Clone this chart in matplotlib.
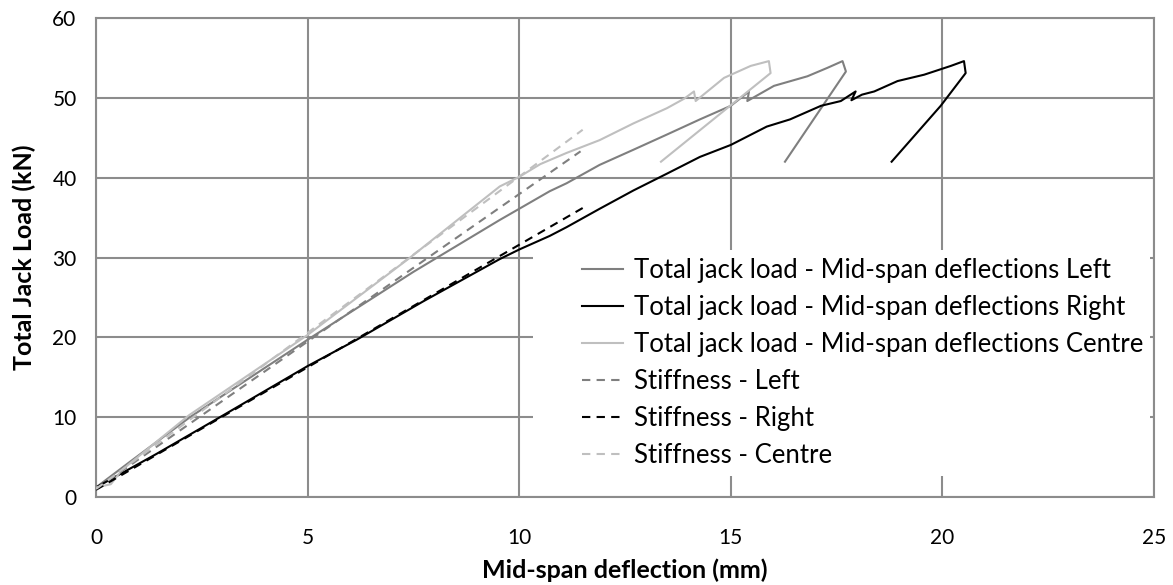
import matplotlib
matplotlib.use("Agg")
import matplotlib.pyplot as plt
from matplotlib.patches import Rectangle

plt.rcParams['font.family'] = ['Lato', 'DejaVu Sans']

# Total jack load vs mid-span deflection (mm, kN)
left_x = [0, 0.8, 2.22, 5, 7.5, 9.54, 10, 10.72, 11.12, 11.9, 12.7, 13.49, 14.27, 15, 15.24,
          15.43, 15.39, 16.02, 16.81, 17.28, 17.64, 17.72, 16.28]
left_y = [1.2, 4.4, 10.0, 19.7, 28.2, 34.7, 36.1, 38.3, 39.3, 41.6, 43.5, 45.4, 47.3, 49.0, 50.0,
          50.8, 49.6, 51.5, 52.7, 53.75, 54.6, 53.3, 42.0]

right_x = [0, 0.65, 1.43, 2.93, 5, 6.16, 7.73, 9.54, 10, 10.72, 11.12, 11.9, 12.7, 13.49, 14.27,
           15, 15.85, 16.4, 17.13, 17.6, 17.95, 17.85, 18.1, 18.39, 18.94, 19.57, 20.2, 20.51,
           20.55, 19.96, 18.8]
right_y = [1.2, 3.1, 5.4, 10.0, 16.4, 19.7, 24.5, 29.8, 31.0, 32.7, 33.8, 36.1, 38.4, 40.5, 42.6,
           44.1, 46.4, 47.3, 49.0, 49.6, 50.8, 49.7, 50.4, 50.8, 52.1, 52.9, 54.0, 54.6,
           53.1, 49.0, 42.0]

centre_x = [0, 0.35, 0.6, 0.8, 2.2, 5, 7.4, 9.54, 10, 10.5, 11.12, 11.9, 12.7, 13.49, 13.9, 14.13,
            14.17, 14.84, 15.47, 15.9, 15.94, 13.35]
centre_y = [1.2, 1.6, 3.3, 4.2, 10.25, 20.3, 29.9, 38.9, 40.1, 41.7, 43.1, 44.7, 46.8, 48.7, 49.9,
            50.8, 49.6, 52.5, 54.0, 54.6, 53.1, 42.0]

# Stiffness lines (start and end points)
stiff_left_x = [0, 11.45]
stiff_left_y = [1.0, 43.3]
stiff_right_x = [0, 11.5]
stiff_right_y = [0.9, 36.2]
stiff_centre_x = [0, 11.5]
stiff_centre_y = [1.0, 46.0]

labels = ["Total jack load - Mid-span deflections Left",
          "Total jack load - Mid-span deflections Right",
          "Total jack load - Mid-span deflections Centre",
          "Stiffness - Left", "Stiffness - Right", "Stiffness - Centre"]

c_left = '#7f7f7f'
c_right = '#000000'
c_centre = '#bfbfbf'
grid_c = '#8c8c8c'

W, H = 1173, 585
fig = plt.figure(figsize=(W / 100, H / 100), dpi=100)
ax = fig.add_axes([96 / W, 88 / H, (1154 - 96) / W, (497 - 18) / H])

lw = 1.5
ax.plot(left_x, left_y, color=c_left, lw=lw, label=labels[0], zorder=3)
ax.plot(right_x, right_y, color=c_right, lw=lw, label=labels[1], zorder=3)
ax.plot(centre_x, centre_y, color=c_centre, lw=lw, label=labels[2], zorder=3)
ax.plot(stiff_left_x, stiff_left_y, color=c_left, lw=lw, dashes=(4, 3), label=labels[3], zorder=3)
ax.plot(stiff_right_x, stiff_right_y, color=c_right, lw=lw, dashes=(4, 3), label=labels[4], zorder=3)
ax.plot(stiff_centre_x, stiff_centre_y, color=c_centre, lw=lw, dashes=(4, 3), label=labels[5], zorder=3)

ax.set_xlim(0, 25)
ax.set_ylim(0, 60)
ax.set_xticks([0, 5, 10, 15, 20, 25])
ax.set_yticks([0, 10, 20, 30, 40, 50, 60])
ax.grid(True, color=grid_c, lw=1.5)
ax.set_axisbelow(True)
for s in ax.spines.values():
    s.set_color(grid_c)
    s.set_linewidth(1.5)
ax.tick_params(axis='x', length=0, labelsize=15, colors='black', pad=22)
ax.tick_params(axis='y', length=0, labelsize=15, colors='black', pad=14)

ax.set_xlabel("Mid-span deflection (mm)", fontsize=18, fontweight='bold', labelpad=8)
ax.set_ylabel("Total Jack Load (kN)", fontsize=18, fontweight='bold', labelpad=12)

# white legend area hiding the grid (figure pixel coords)
bg = Rectangle((533 / W, (H - 476) / H), (1150 - 533) / W, (476 - 250) / H,
               transform=fig.transFigure, facecolor='white', edgecolor='none', zorder=1)
ax.add_patch(bg)

leg = ax.legend(loc='upper left', bbox_to_anchor=(582 / W, (H - 258) / H),
                bbox_transform=fig.transFigure, fontsize=18.5, frameon=False,
                handlelength=1.6, handletextpad=0.42, labelspacing=0.47,
                borderpad=0, borderaxespad=0)

fig.savefig("out.png", dpi=100)
